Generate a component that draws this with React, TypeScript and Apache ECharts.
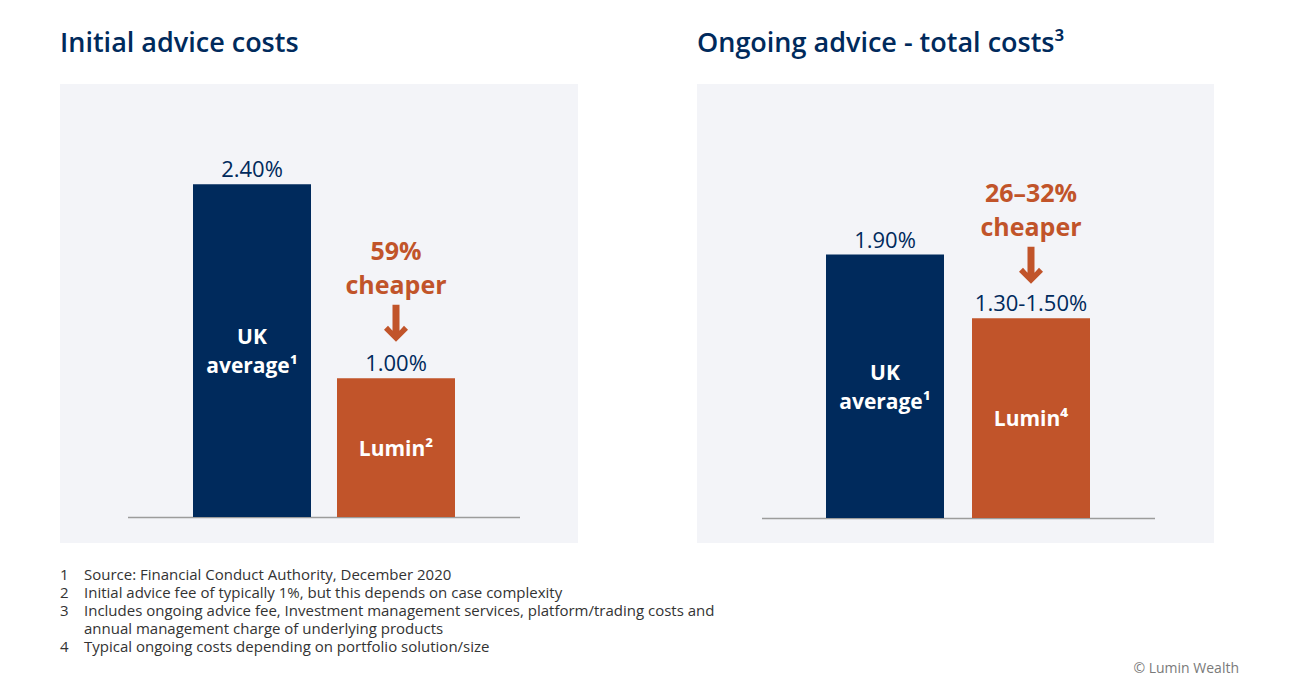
import { useEffect, useRef } from "react";
import * as echarts from "echarts";

// chart data
const categories = ["UK average", "Lumin"];
const initialValues = [2.4, 1.0];
const ongoingValues = [1.9, 1.44];
const initialValueLabels = ["2.40%", "1.00%"];
const ongoingValueLabels = ["1.90%", "1.30-1.50%"];
const initialBarNames = ["UK\naverage¹", "Lumin²"];
const ongoingBarNames = ["UK\naverage¹", "Lumin⁴"];
const savingLabels = ["59%\ncheaper", "26–32%\ncheaper"];
const panelTitles = ["Initial advice costs", "Ongoing advice - total costs³"];
const footnotes = [
  ["1", "Source: Financial Conduct Authority, December 2020"],
  ["2", "Initial advice fee of typically 1%, but this depends on case complexity"],
  ["3", "Includes ongoing advice fee, Investment management services, platform/trading costs and"],
  ["", "annual management charge of underlying products"],
  ["4", "Typical ongoing costs depending on portfolio solution/size"],
];

const NAVY = "#002a5c";
const ORANGE = "#c1542a";
const PANEL = "#f3f4f8";
const FONT = "'Open Sans', 'Noto Sans', sans-serif";
const ARROW = "path://M8.5 0H15.5V26L20 21L24 25L12 37L0 25L4 21L8.5 26Z";

function barSeries(
  axis: number,
  values: number[],
  names: string[],
  valueLabels: string[],
  saving: string,
  arrowOffset: number
) {
  return [
    {
      type: "bar",
      xAxisIndex: axis,
      yAxisIndex: axis,
      barWidth: 118,
      barGap: "-100%",
      z: 3,
      data: values.map((v, i) => ({
        value: v,
        itemStyle: { color: i === 0 ? NAVY : ORANGE },
      })),
      label: {
        show: true,
        position: "inside",
        formatter: (p: any) => names[p.dataIndex],
        color: "#ffffff",
        fontFamily: FONT,
        fontWeight: "bold",
        fontSize: 21,
        lineHeight: 29,
      },
      markPoint: {
        silent: true,
        data: [
          {
            coord: [categories[1], values[1]],
            symbol: ARROW,
            symbolSize: [24, 37],
            symbolOffset: [0, arrowOffset],
            itemStyle: { color: ORANGE },
            label: {
              show: true,
              position: "top",
              distance: 4,
              formatter: saving,
              color: ORANGE,
              fontFamily: FONT,
              fontWeight: "bold",
              fontSize: 25,
              lineHeight: 34,
            },
          },
        ],
      },
    },
    {
      type: "bar",
      xAxisIndex: axis,
      yAxisIndex: axis,
      barWidth: 118,
      barGap: "-100%",
      silent: true,
      z: 2,
      data: values,
      itemStyle: { color: "transparent" },
      label: {
        show: true,
        position: "top",
        distance: 5,
        formatter: (p: any) => valueLabels[p.dataIndex],
        color: NAVY,
        fontFamily: FONT,
        fontSize: 22,
      },
    },
  ];
}

export default function App() {
  const chartRef = useRef<HTMLDivElement>(null);

  useEffect(() => {
    document.body.style.margin = "0";
    if (!chartRef.current) return;
    const chart = echarts.init(chartRef.current, undefined, { renderer: "svg" });

    const graphics: any[] = [
      { type: "rect", z: -10, shape: { x: 60, y: 84, width: 518, height: 459 }, style: { fill: PANEL } },
      { type: "rect", z: -10, shape: { x: 697, y: 84, width: 517, height: 459 }, style: { fill: PANEL } },
      { type: "line", z: 1, shape: { x1: 128, y1: 517.5, x2: 520, y2: 517.5 }, style: { stroke: "#9c9c9c", lineWidth: 1.5 } },
      { type: "line", z: 1, shape: { x1: 762, y1: 518.5, x2: 1155, y2: 518.5 }, style: { stroke: "#9c9c9c", lineWidth: 1.5 } },
      {
        type: "text",
        style: { text: panelTitles[0], x: 60, y: 41, verticalAlign: "middle", fill: NAVY, font: `600 27px ${FONT}` },
      },
      {
        type: "text",
        style: { text: panelTitles[1], x: 697, y: 41, verticalAlign: "middle", fill: NAVY, font: `600 27px ${FONT}` },
      },
      {
        type: "text",
        style: { text: "© Lumin Wealth", x: 1239, y: 667, align: "right", verticalAlign: "middle", fill: "#7a7a7a", font: `14px ${FONT}` },
      },
    ];
    footnotes.forEach(([num, text], i) => {
      const y = 574 + i * 18;
      if (num) {
        graphics.push({
          type: "text",
          style: { text: num, x: 60, y, verticalAlign: "middle", fill: "#333333", font: `15px ${FONT}` },
        });
      }
      graphics.push({
        type: "text",
        style: { text, x: 84, y, verticalAlign: "middle", fill: "#333333", font: `15px ${FONT}` },
      });
    });

    chart.setOption({
      animation: false,
      grid: [
        { left: 180, width: 288, top: 101, bottom: 183 },
        { left: 812, width: 292, top: 102, bottom: 182 },
      ],
      xAxis: [
        { type: "category", gridIndex: 0, data: categories, show: false },
        { type: "category", gridIndex: 1, data: categories, show: false },
      ],
      yAxis: [
        { type: "value", gridIndex: 0, min: 0, max: 3, show: false },
        { type: "value", gridIndex: 1, min: 0, max: 3, show: false },
      ],
      graphic: graphics,
      series: [
        ...barSeries(0, initialValues, initialBarNames, initialValueLabels, savingLabels[0], -55),
        ...barSeries(1, ongoingValues, ongoingBarNames, ongoingValueLabels, savingLabels[1], -53),
      ],
    });

    return () => {
      chart.dispose();
    };
  }, []);

  return <div ref={chartRef} style={{ width: 1300, height: 700 }} />;
}
